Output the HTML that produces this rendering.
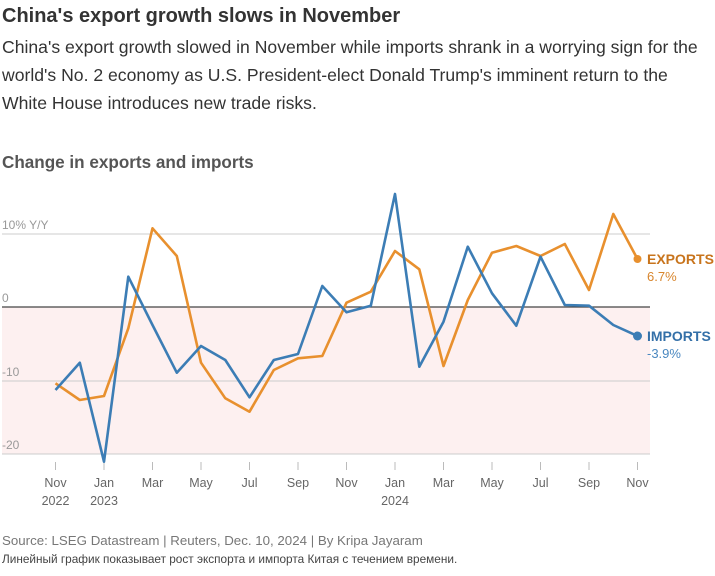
<!DOCTYPE html><html><head><style>body{margin:0;background:#fff;font-family:"Liberation Sans",sans-serif;}</style></head><body>
<svg width="715" height="571" xmlns="http://www.w3.org/2000/svg" font-family="Liberation Sans, sans-serif">
<text x="2" y="22" font-size="20" font-weight="bold" fill="#333">China's export growth slows in November</text>
<text font-size="17.6" fill="#333"><tspan x="2" y="53">China's export growth slowed in November while imports shrank in a worrying sign for the</tspan><tspan x="2" y="81">world's No. 2 economy as U.S. President-elect Donald Trump's imminent return to the</tspan><tspan x="2" y="109">White House introduces new trade risks.</tspan></text>
<text x="2" y="168" font-size="17.1" font-weight="bold" fill="#555">Change in exports and imports</text>
<rect x="2" y="307" width="648" height="147" fill="#fdf0f0"/>
<g stroke="#ccc" stroke-width="1"><line x1="2" y1="234" x2="650" y2="234"/><line x1="2" y1="381" x2="650" y2="381"/><line x1="2" y1="454" x2="650" y2="454"/></g>
<line x1="2" y1="307" x2="650" y2="307" stroke="#444" stroke-width="1.3"/>
<g font-size="12" fill="#999"><text x="2" y="229">10% Y/Y</text><text x="2" y="302">0</text><text x="2" y="376">-10</text><text x="2" y="449">-20</text></g>
<g font-size="12.5" fill="#666" text-anchor="middle">
<text x="55.5" y="487">Nov</text><text x="55.5" y="505">2022</text>
<text x="104" y="487">Jan</text><text x="104" y="505">2023</text>
<text x="152.5" y="487">Mar</text><text x="201" y="487">May</text><text x="249.5" y="487">Jul</text><text x="298" y="487">Sep</text><text x="346.5" y="487">Nov</text>
<text x="395" y="487">Jan</text><text x="395" y="505">2024</text>
<text x="443.5" y="487">Mar</text><text x="492" y="487">May</text><text x="540.5" y="487">Jul</text><text x="589" y="487">Sep</text><text x="637.5" y="487">Nov</text>
</g>
<g stroke="#bbb"><line x1="55.5" y1="462" x2="55.5" y2="470"/><line x1="104" y1="462" x2="104" y2="470"/><line x1="152.5" y1="462" x2="152.5" y2="470"/><line x1="201" y1="462" x2="201" y2="470"/><line x1="249.5" y1="462" x2="249.5" y2="470"/><line x1="298" y1="462" x2="298" y2="470"/><line x1="346.5" y1="462" x2="346.5" y2="470"/><line x1="395" y1="462" x2="395" y2="470"/><line x1="443.5" y1="462" x2="443.5" y2="470"/><line x1="492" y1="462" x2="492" y2="470"/><line x1="540.5" y1="462" x2="540.5" y2="470"/><line x1="589" y1="462" x2="589" y2="470"/><line x1="637.5" y1="462" x2="637.5" y2="470"/></g>
<polyline fill="none" stroke="#e8902e" stroke-width="2.6" stroke-linejoin="round" points="55.5,383.3 79.8,400 104,396 128.3,328.3 152.5,228.3 176.8,256 201,362.7 225.3,398.3 249.5,411.7 273.8,370 298,358.3 322.3,356 346.5,302.7 370.8,291.7 395,251 419.3,269.3 443.5,366 467.8,300 492,252.7 516.3,246 540.5,256 564.8,244 589,290 613.3,214 637.5,259"/>
<polyline fill="none" stroke="#3c7db5" stroke-width="2.6" stroke-linejoin="round" points="55.5,390 79.8,362.7 104,461.7 128.3,276.7 152.5,325 176.8,372.7 201,346 225.3,360 249.5,397.3 273.8,360 298,354 322.3,286 346.5,312.3 370.8,305.7 395,194 419.3,366.7 443.5,321.7 467.8,246.7 492,293.3 516.3,325.7 540.5,256.7 564.8,305 589,305.7 613.3,325 637.5,336"/>
<circle cx="637.5" cy="259" r="4" fill="#e8902e"/><circle cx="637.5" cy="336" r="4.5" fill="#3c7db5"/>
<text x="647" y="264" font-size="14" font-weight="bold" fill="#c8741c">EXPORTS</text>
<text x="647" y="281" font-size="13" fill="#d8862e">6.7%</text>
<text x="647" y="341" font-size="14" font-weight="bold" fill="#3470a8">IMPORTS</text>
<text x="647" y="358" font-size="13" fill="#4a88c0">-3.9%</text>
<text x="2" y="545" font-size="13.3" fill="#777">Source: LSEG Datastream | Reuters, Dec. 10, 2024 | By Kripa Jayaram</text>
<text x="2" y="563" font-size="11.8" fill="#444">Линейный график показывает рост экспорта и импорта Китая с течением времени.</text>
</svg></body></html>
